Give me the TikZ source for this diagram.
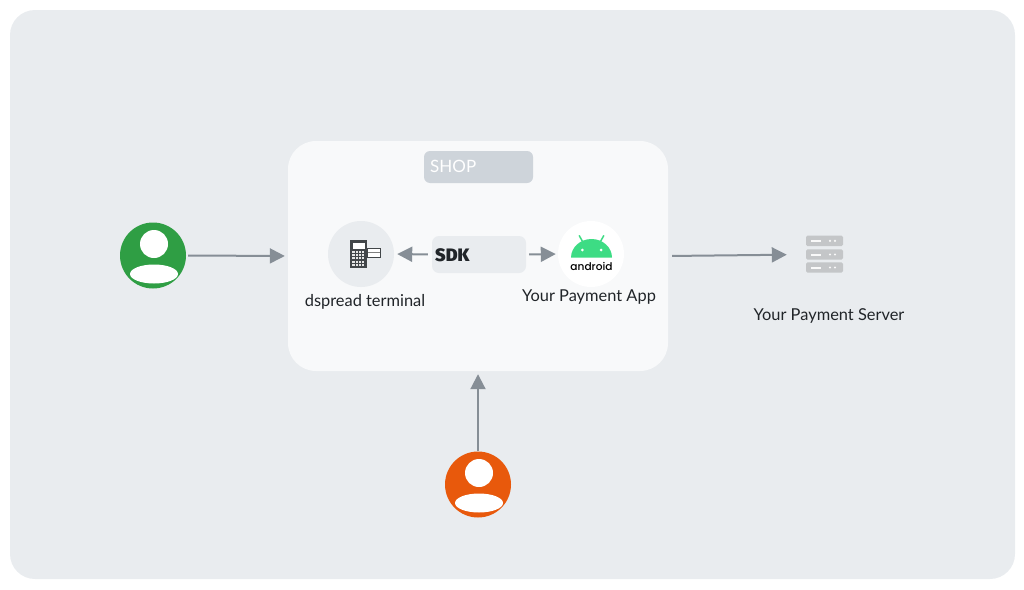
\documentclass[tikz,border=0pt]{standalone}
\usepackage{fontspec}
\setmainfont{Lato}
\newfontfamily\sdkfont{Fira Sans}[UprightFont=* Black,Scale=1]
\newfontfamily\logofont{Poppins}[UprightFont=* Medium]
\usetikzlibrary{arrows.meta}

\definecolor{bggray}{HTML}{E9ECEF}
\definecolor{shopgray}{HTML}{F8F9FA}
\definecolor{taggray}{HTML}{CED4DA}
\definecolor{flowgray}{HTML}{868E96}
\definecolor{servergray}{HTML}{C4C6C8}
\definecolor{usergreen}{HTML}{2F9E44}
\definecolor{userorange}{HTML}{E8590C}
\definecolor{droidgreen}{HTML}{3DDC84}
\definecolor{inkgray}{HTML}{212529}

\tikzset{
  flow/.style={draw=flowgray, line width=2pt, -{Triangle[length=15pt,width=15pt]}},
  iconcircle/.style={circle, minimum size=66pt, inner sep=0pt},
  panelbox/.style={rectangle, inner sep=0pt},
  caption/.style={text=inkgray, font=\fontsize{16.4}{18}\selectfont, inner sep=0pt},
}

\begin{document}
\begin{tikzpicture}[x=1pt,y=-1pt]
  \useasboundingbox (0,0) rectangle (1024,589);

  % Backgrounds
  \node[panelbox, fill=bggray, rounded corners=25pt, minimum width=1005pt, minimum height=569pt] (backdrop) at (512.5,294.5) {};
  \node[panelbox, fill=shopgray, rounded corners=28pt, minimum width=380pt, minimum height=230pt] (shop) at (478,256) {};
  \node[panelbox, fill=taggray, rounded corners=6pt, minimum width=109pt, minimum height=32pt] (shoptag) at (478.5,167) {};
  \node[anchor=west, text=white, inner sep=0pt, font=\fontsize{17}{18}\selectfont] (shoplabel) at (430,166.5) {SHOP};

  % Terminal
  \node[iconcircle, fill=bggray] (terminal) at (361,254) {};
  \fill[inkgray!85] (350,240) rectangle (367,267.5);
  \fill[white] (353,243) rectangle (364.5,248.5);
  \foreach \i in {0,...,3}
    \foreach \j in {0,...,4}
      \fill[white!90!black] (352.4+\i*3.1,250.6+\j*3.3) rectangle (354.6+\i*3.1,252.8+\j*3.3);
  \draw[inkgray!85, fill=white, line width=0.6pt] (367.5,248) rectangle (380,257);
  \fill[gray] (367.5,251.5) rectangle (380,253.3);
  \node[caption] (terminallabel) at (365,301.5) {dspread terminal};

  % SDK
  \node[panelbox, fill=bggray, rounded corners=7pt, minimum width=94pt, minimum height=37pt] (sdk) at (479,254.5) {};
  \node[anchor=west, text=inkgray, inner sep=0pt, font=\sdkfont\fontsize{18}{20}\selectfont] (sdklabel) at (435,255) {SDK};

  % Android app
  \node[iconcircle, fill=white] (app) at (591,254) {};
  \fill[droidgreen] (571,257.7) arc[start angle=180, end angle=360, x radius=20.5pt, y radius=-18.7pt] -- cycle;
  \draw[droidgreen, line width=1.5pt, line cap=round] (579.3,235.7) -- (582.5,241.5);
  \draw[droidgreen, line width=1.5pt, line cap=round] (603.7,235.7) -- (600.5,241.5);
  \fill[white] (582.3,250) circle (1.5pt);
  \fill[white] (601,250) circle (1.5pt);
  \node[inner sep=0pt, text=black, font=\logofont\fontsize{10.6}{12}\selectfont] (applogo) at (591.5,266) {android};
  \node[caption] (applabel) at (589,297.5) {Your Payment App};

  % Server
  \node[panelbox, minimum width=37pt, minimum height=38pt] (server) at (824.5,254.5) {};
  \foreach \y in {235.7,249.3,262.3} {
    \fill[servergray, rounded corners=1.5pt] (806,\y) rectangle (843,\y+10.4);
    \fill[white!90!servergray] (811,\y+4.2) rectangle (820.7,\y+6.2);
    \fill[white!90!servergray] (830,\y+5.2) circle (1.2pt);
    \fill[white!90!servergray] (835,\y+5.2) circle (1.2pt);
  }
  \node[caption] (serverlabel) at (829,315.5) {Your Payment Server};

  % Users
  \foreach \name/\x/\y/\col in {greenuser/153/255.5/usergreen, orangeuser/478/484.5/userorange} {
    \node[iconcircle, fill=\col] (\name) at (\x,\y) {};
    \fill[white] (\x+1,\y-11.5) circle (14pt);
    \fill[white] (\x+1,\y+18.5) ellipse (24pt and 9.5pt);
  }

  % Connectors
  \draw[flow, shorten <=2pt, shorten >=3pt] (greenuser.east) -- (shop.west);
  \draw[flow, shorten >=3pt] (orangeuser.north) -- (shop.south);
  \draw[flow, shorten <=4pt, shorten >=3pt] (sdk.west) -- (terminal.east);
  \draw[flow, shorten <=3pt, shorten >=2pt] (sdk.east) -- (app.west);
  \draw[flow, shorten <=4pt, shorten >=19pt] (shop.east) -- (server.west);
\end{tikzpicture}
\end{document}
